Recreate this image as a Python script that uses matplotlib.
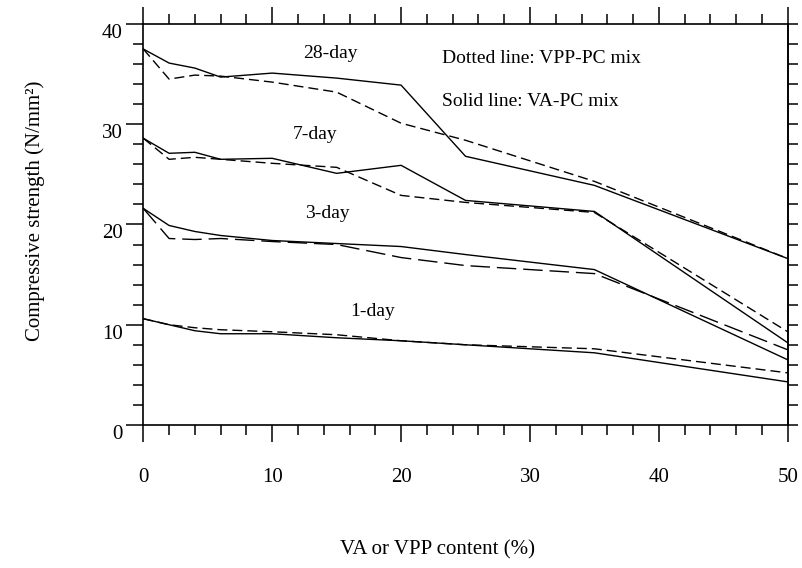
import numpy as np
import matplotlib
matplotlib.use("Agg")
import matplotlib.pyplot as plt
from matplotlib.transforms import ScaledTranslation

plt.rcParams['font.family'] = ['Liberation Serif', 'DejaVu Serif']

# VA or VPP content (%)
content = [0, 2, 4, 6, 10, 15, 20, 25, 35, 50]

# compressive strength (N/mm2), solid = VA-PC, dashed = VPP-PC
va_28 = [37.5, 36.1, 35.6, 34.7, 35.1, 34.6, 33.9, 26.8, 23.9, 16.6]
vpp_28 = [37.5, 34.5, 34.9, 34.8, 34.2, 33.2, 30.1, 28.4, 24.3, 16.6]
va_7 = [28.6, 27.1, 27.2, 26.5, 26.6, 25.1, 25.9, 22.4, 21.3, 8.2]
vpp_7 = [28.6, 26.5, 26.7, 26.5, 26.1, 25.7, 22.9, 22.2, 21.2, 9.3]
va_3 = [21.6, 19.9, 19.3, 18.9, 18.4, 18.1, 17.8, 17.0, 15.5, 6.5]
vpp_3 = [21.6, 18.6, 18.5, 18.6, 18.3, 18.0, 16.7, 15.9, 15.1, 7.5]
va_1 = [10.6, 10.0, 9.4, 9.1, 9.1, 8.7, 8.4, 8.0, 7.2, 4.3]
vpp_1 = [10.6, 10.0, 9.7, 9.5, 9.3, 9.0, 8.4, 8.0, 7.6, 5.2]

age_labels = ['28-day', '7-day', '3-day', '1-day']
age_label_pos = [(14.5, 37.1), (13.3, 29.0), (14.3, 21.1), (17.8, 11.3)]

fig = plt.figure(figsize=(8.02, 5.68), dpi=100)
ax = fig.add_axes([0.1787, 0.2518, 0.8035, 0.706])

short_dash = (7.2, 3.6)
long_dash = (14, 5)
lw = 1.0

for solid, dashed, dsh in [(va_28, vpp_28, short_dash), (va_7, vpp_7, short_dash),
                           (va_3, vpp_3, long_dash), (va_1, vpp_1, short_dash)]:
    ax.plot(content, solid, color='black', lw=lw)
    ax.plot(content, dashed, color='black', lw=lw, linestyle=(0, dsh))

for lab, (lx, ly) in zip(age_labels, age_label_pos):
    ax.text(lx, ly, lab, fontsize=14, ha='center', va='center')

ax.text(23.15, 36.6, 'Dotted line: VPP-PC mix', fontsize=14, ha='left', va='center')
ax.text(23.15, 32.3, 'Solid line: VA-PC mix', fontsize=14, ha='left', va='center')

ax.set_xlim(0, 50)
ax.set_ylim(0, 40)
ax.set_xticks(np.arange(0, 51, 10))
ax.set_xticks(np.arange(0, 51, 2), minor=True)
ax.set_yticks(np.arange(0, 41, 10))
ax.set_yticks(np.arange(0, 41, 2), minor=True)

for s in ax.spines.values():
    s.set_linewidth(1.2)

ax.tick_params(axis='x', which='major', direction='out', length=12, width=1.1,
               top=True, bottom=True, pad=19, labelsize=15)
ax.tick_params(axis='x', which='minor', direction='out', length=7, width=1.1,
               top=True, bottom=True)
ax.tick_params(axis='y', which='major', direction='out', length=12, width=1.1,
               left=True, right=False, pad=3, labelsize=15)
ax.tick_params(axis='y', which='minor', direction='out', length=7, width=1.1,
               left=True, right=False)

sec = ax.secondary_yaxis('right')
sec.set_yticks(np.arange(0, 41, 2))
sec.tick_params(direction='out', length=7, width=1.1, labelright=False)
sec.spines['right'].set_linewidth(1.2)

# y tick labels sit a little below their ticks in the original
off = ScaledTranslation(0, -7 / 100, fig.dpi_scale_trans)
for lbl in ax.yaxis.get_majorticklabels():
    lbl.set_transform(lbl.get_transform() + off)

fig.text(0.546, 1 - 550 / 568, 'VA or VPP content (%)', fontsize=15,
         ha='center', va='center')
fig.text(35 / 802, 1 - 211 / 568, 'Compressive strength (N/mm²)', fontsize=15,
         ha='center', va='center', rotation=90)

fig.savefig('out.png', dpi=100)
